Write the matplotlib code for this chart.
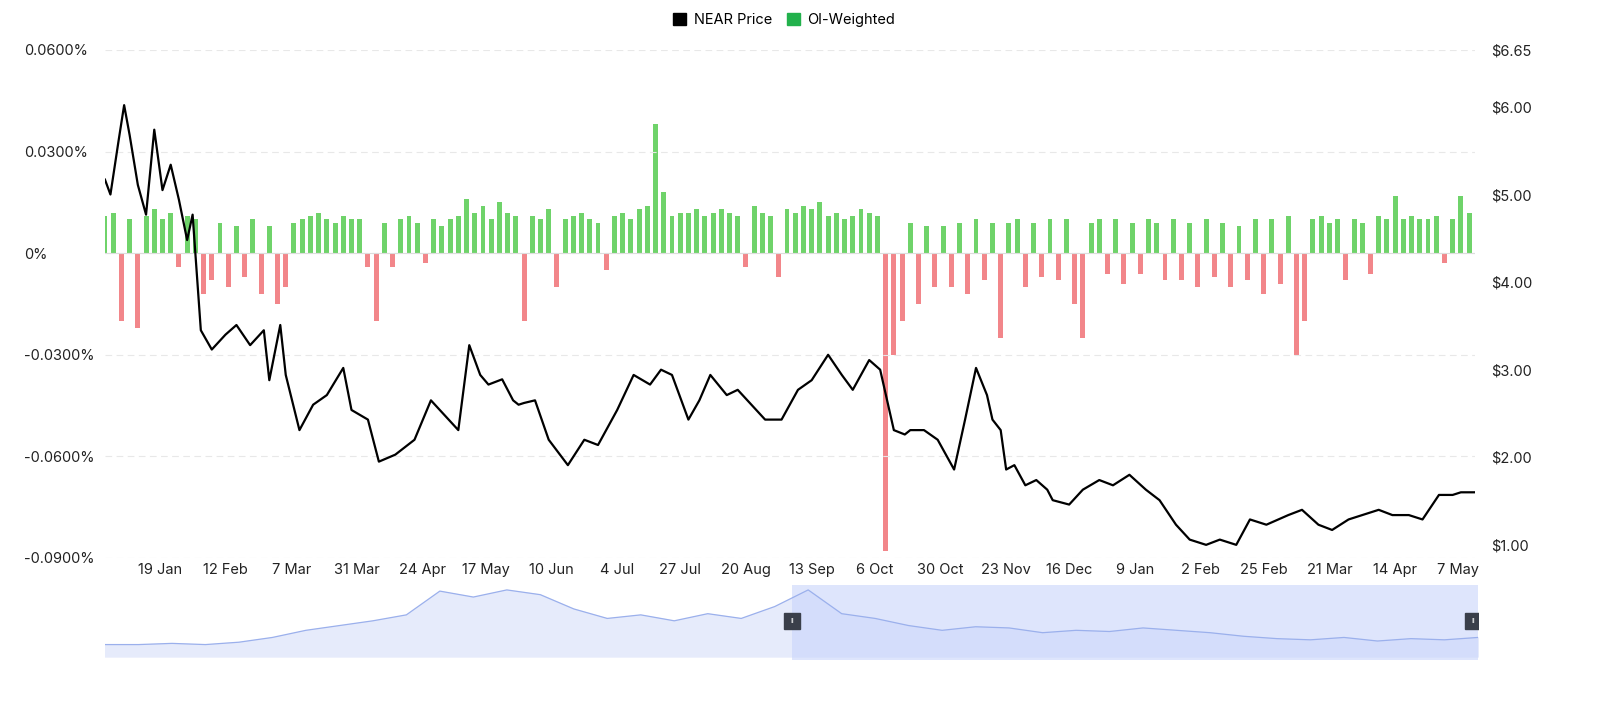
import numpy as np
import pandas as pd
import matplotlib
matplotlib.use("Agg")
import matplotlib.pyplot as plt
from matplotlib.ticker import FuncFormatter, FixedLocator

plt.rcParams["font.family"] = ["Inter", "DejaVu Sans"]

START = pd.Timestamp("2023-12-30")

# NEAR price: day offset from START, price in USD
price_days = [0, 2, 5, 7, 9, 12, 15, 18, 21, 24, 27, 30, 32, 35, 39, 44, 48, 53, 58, 60,
              64, 66, 71, 76, 81, 87, 90, 96, 100, 106, 113, 119, 124, 129, 133, 137, 140, 145,
              149, 151, 153, 157, 162, 169, 175, 180, 187, 193, 199, 203, 207, 213, 217, 221,
              227, 231, 236, 241, 247, 253, 258, 264, 269, 273, 279, 283, 288, 292, 294, 299,
              304, 310, 314, 318, 322, 324, 327, 329, 332, 336, 340, 344, 346, 352, 357, 363,
              368, 374, 380, 385, 391, 396, 402, 407, 413, 418, 424, 432, 437, 443, 448, 454,
              459, 465, 470, 476, 481, 487, 492, 495, 500, 504]
price_vals = [5.17, 5.00, 5.62, 6.02, 5.68, 5.11, 4.77, 5.74, 5.05, 5.34, 4.94, 4.48, 4.77,
              3.45, 3.23, 3.40, 3.51, 3.28, 3.45, 2.88, 3.51, 2.94, 2.31, 2.60, 2.71, 3.02,
              2.54, 2.43, 1.95, 2.03, 2.20, 2.65, 2.48, 2.31, 3.28, 2.94, 2.83, 2.89, 2.65,
              2.60, 2.62, 2.65, 2.20, 1.91, 2.20, 2.14, 2.54, 2.94, 2.83, 3.00, 2.94, 2.43,
              2.65, 2.94, 2.71, 2.77, 2.60, 2.43, 2.43, 2.77, 2.88, 3.17, 2.94, 2.77, 3.11,
              3.00, 2.31, 2.26, 2.31, 2.31, 2.20, 1.86, 2.43, 3.02, 2.71, 2.43, 2.31, 1.86,
              1.91, 1.68, 1.74, 1.63, 1.51, 1.46, 1.63, 1.74, 1.68, 1.80, 1.63, 1.51, 1.23,
              1.06, 1.00, 1.06, 1.00, 1.29, 1.23, 1.34, 1.40, 1.23, 1.17, 1.29, 1.34, 1.40,
              1.34, 1.34, 1.29, 1.57, 1.57, 1.60, 1.60, 1.62]

# OI-weighted funding rate (%), one value per 3-day step from START
funding = [0.011, 0.012, -0.020, 0.010, -0.022, 0.011, 0.013, 0.010, 0.012, -0.004, 0.011, 0.010,
           -0.012, -0.008, 0.009, -0.010, 0.008, -0.007, 0.010, -0.012, 0.008,
           -0.015, -0.010, 0.009, 0.010, 0.011, 0.012, 0.010, 0.009, 0.011, 0.010,
           0.010, -0.004, -0.020, 0.009, -0.004, 0.010, 0.011, 0.009, -0.003, 0.010,
           0.008, 0.010, 0.011, 0.016, 0.012, 0.014, 0.010, 0.015, 0.012, 0.011,
           -0.020, 0.011, 0.010, 0.013, -0.010, 0.010, 0.011, 0.012, 0.010, 0.009,
           -0.005, 0.011, 0.012, 0.010, 0.013, 0.014, 0.038, 0.018, 0.011, 0.012,
           0.012, 0.013, 0.011, 0.012, 0.013, 0.012, 0.011, -0.004, 0.014, 0.012,
           0.011, -0.007, 0.013, 0.012, 0.014, 0.013, 0.015, 0.011, 0.012, 0.010,
           0.011, 0.013, 0.012, 0.011, -0.088, -0.030, -0.020, 0.009, -0.015, 0.008,
           -0.010, 0.008, -0.010, 0.009, -0.012, 0.010, -0.008, 0.009, -0.025, 0.009,
           0.010, -0.010, 0.009, -0.007, 0.010, -0.008, 0.010, -0.015, -0.025, 0.009,
           0.010, -0.006, 0.010, -0.009, 0.009, -0.006, 0.010, 0.009, -0.008, 0.010,
           -0.008, 0.009, -0.010, 0.010, -0.007, 0.009, -0.010, 0.008, -0.008, 0.010,
           -0.012, 0.010, -0.009, 0.011, -0.030, -0.020, 0.010, 0.011, 0.009, 0.010,
           -0.008, 0.010, 0.009, -0.006, 0.011, 0.010, 0.017, 0.010, 0.011, 0.010,
           0.010, 0.011, -0.003, 0.010, 0.017, 0.012, -0.016]

# navigator (full history, arbitrary units)
nav_vals = [1.0, 1.0, 1.1, 1.0, 1.2, 1.6, 2.2, 2.6, 3.0, 3.5, 5.5, 5.0, 5.6, 5.2, 4.0, 3.2,
            3.5, 3.0, 3.6, 3.2, 4.2, 5.6, 3.6, 3.2, 2.6, 2.2, 2.5, 2.4, 2.0, 2.2, 2.1,
            2.4, 2.2, 2.0, 1.7, 1.5, 1.4, 1.6, 1.3, 1.5, 1.4, 1.6]

tick_labels = ["19 Jan", "12 Feb", "7 Mar", "31 Mar", "24 Apr", "17 May", "10 Jun", "4 Jul",
               "27 Jul", "20 Aug", "13 Sep", "6 Oct", "30 Oct", "23 Nov", "16 Dec", "9 Jan",
               "2 Feb", "25 Feb", "21 Mar", "14 Apr", "7 May"]
tick_dates = pd.to_datetime(["2024-01-19", "2024-02-12", "2024-03-07", "2024-03-31",
                             "2024-04-24", "2024-05-17", "2024-06-10", "2024-07-04",
                             "2024-07-27", "2024-08-20", "2024-09-13", "2024-10-06",
                             "2024-10-30", "2024-11-23", "2024-12-16", "2025-01-09",
                             "2025-02-02", "2025-02-25", "2025-03-21", "2025-04-14",
                             "2025-05-07"])

fig = plt.figure(figsize=(16, 7.13), dpi=100)
ax = fig.add_axes([0.0656, 0.2174, 0.856, 0.7125])
ax2 = ax.twinx()

f_dates = START + pd.to_timedelta(np.arange(len(funding)) * 3, unit="D")
f = np.array(funding)
cols = np.where(f >= 0, "#6fd36a", "#f2868a")
ax.bar(f_dates, f, width=1.8, color=cols, linewidth=0)
ax.axhline(0, color="#dddddd", lw=0.8)
ax.set_ylim(-0.09, 0.06)
ax.yaxis.set_major_locator(FixedLocator([-0.09, -0.06, -0.03, 0, 0.03, 0.06]))
ax.yaxis.set_major_formatter(FuncFormatter(lambda v, _: "0%" if abs(v) < 1e-9 else f"{v:.4f}%"))
ax.grid(axis="y", color="#e8e8e8", ls=(0, (6, 4)), lw=0.8)

p_dates = START + pd.to_timedelta(price_days, unit="D")
ax2.plot(p_dates, price_vals, color="black", lw=1.6)
ax2.set_ylim(0.85, 6.65)
ax2.yaxis.set_major_locator(FixedLocator([1, 2, 3, 4, 5, 6, 6.65]))
ax2.yaxis.set_major_formatter(FuncFormatter(lambda v, _: f"${v:.2f}"))

ax.set_xlim(START, pd.Timestamp("2025-05-13"))
ax.set_xticks(tick_dates)
ax.set_xticklabels(tick_labels)
for a in (ax, ax2):
    for s in a.spines.values():
        s.set_visible(False)
    a.tick_params(length=0, labelsize=10.5, colors="#222222")
ax2.tick_params(axis="y", pad=12)
for lbl in ax.get_yticklabels():
    lbl.set_horizontalalignment("left")
ax.tick_params(axis="y", pad=58)

# legend
h1 = plt.Rectangle((0, 0), 1, 1, color="black")
h2 = plt.Rectangle((0, 0), 1, 1, color="#22b14c")
fig.legend([h1, h2], ["NEAR Price", "OI-Weighted"], loc="upper center", ncol=2,
           bbox_to_anchor=(0.49, 1.0), frameon=False, fontsize=10.5,
           handlelength=0.9, handleheight=0.9, columnspacing=1.0, handletextpad=0.5)

# navigator
nav = fig.add_axes([0.0656, 0.0743, 0.8581, 0.105])
nx = np.arange(len(nav_vals))
nav.fill_between(nx, nav_vals, color="#e6ebfb")
nav.plot(nx, nav_vals, color="#9bb0ec", lw=0.9)
nav.set_xlim(0, len(nav_vals) - 1)
nav.set_ylim(-0.3, 6.0)
sel0 = (792 - 105) / 1373 * (len(nav_vals) - 1)
nav.axvspan(sel0, len(nav_vals) - 1, color="#c9d5fb", alpha=0.6, lw=0)
nav.set_facecolor("#f3f5fd")
for xh in (sel0, len(nav_vals) - 1.15):
    nav.plot([xh], [3.0], marker="s", ms=11, color="#3a3f4a")
    nav.text(xh, 3.0, "II", color="white", fontsize=5, ha="center", va="center")
nav.axis("off")

fig.savefig("out.png", dpi=100)
